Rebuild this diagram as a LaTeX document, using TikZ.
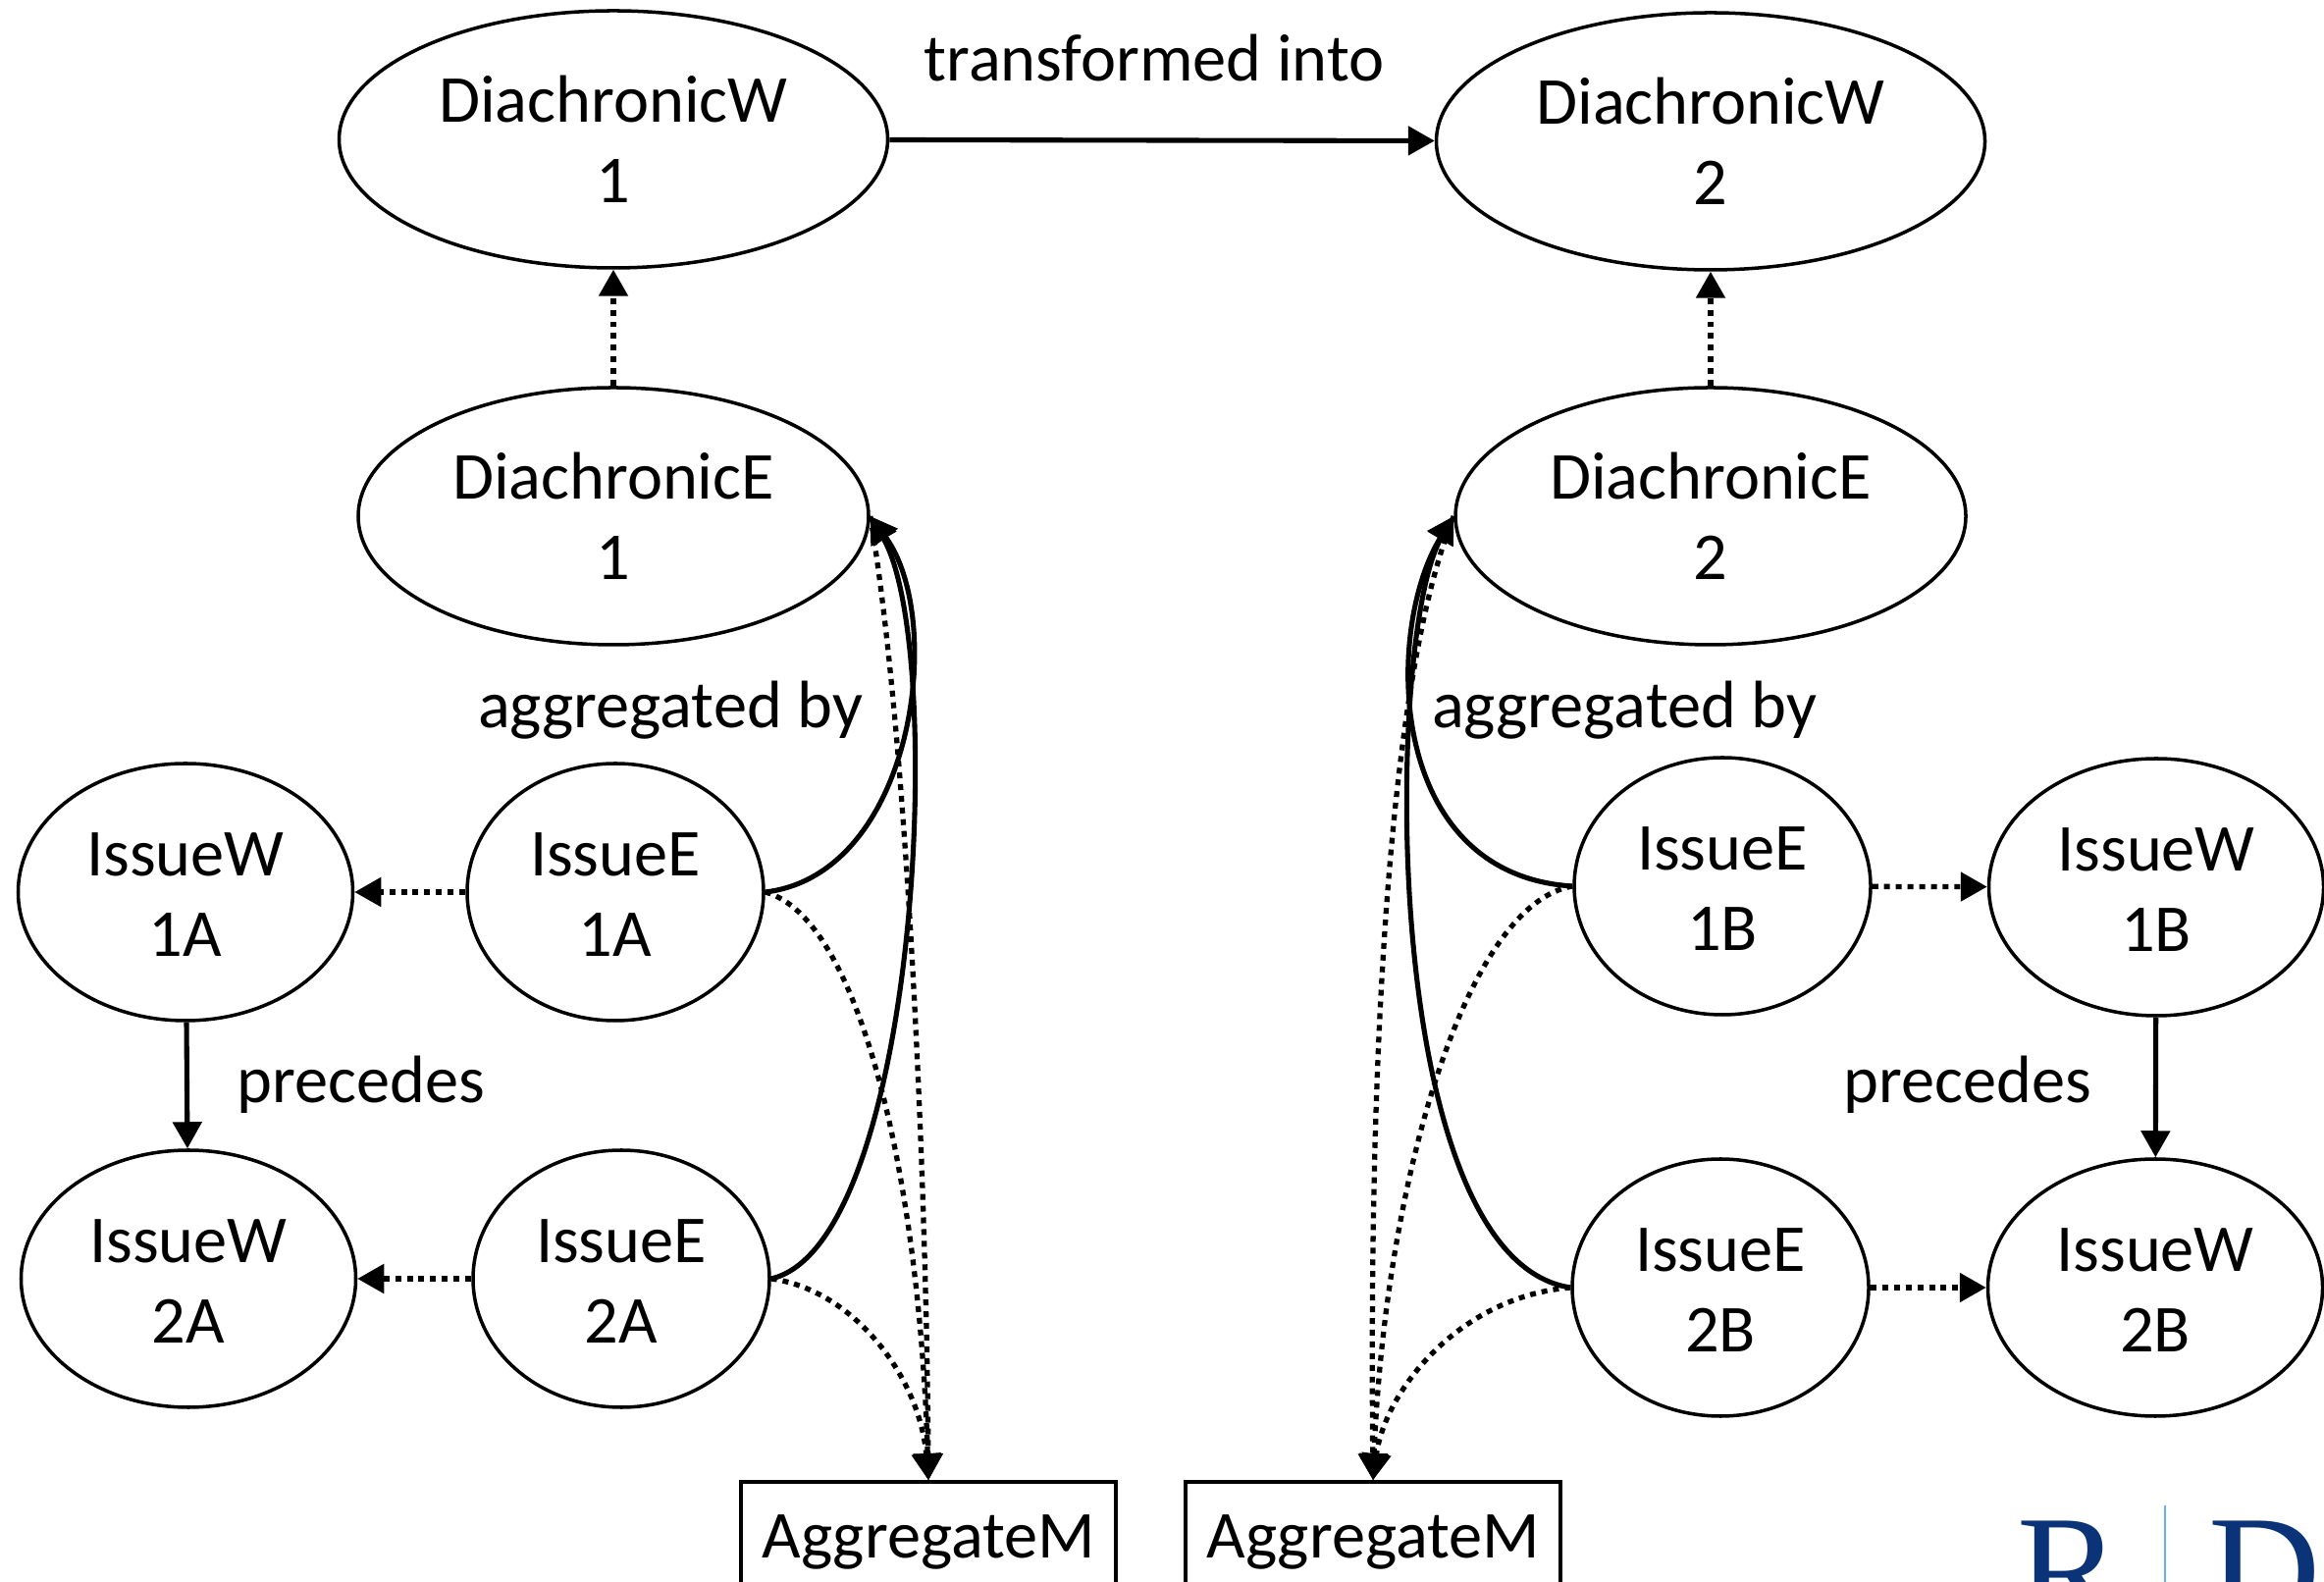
\documentclass[tikz,border=0pt]{standalone}
\usepackage{fontspec}
\usepackage{xcolor}
\setmainfont{Carlito}
\newfontfamily\logofont{Liberation Serif}
\usetikzlibrary{shapes.geometric,arrows.meta}
\definecolor{logonavy}{HTML}{0A3378}
\definecolor{logoblue}{HTML}{66AEFF}

\begin{document}
\begin{tikzpicture}[
    >={Triangle[length=0.27cm, width=0.29cm]},
    diachronicw/.style={ellipse, draw=black, line width=1pt, minimum width=5.59cm, minimum height=2.62cm,
                inner sep=0pt, align=center, font=\fontsize{19.45}{23.3}\selectfont},
    diachronice/.style={diachronicw, minimum width=5.2cm},
    issuew/.style={diachronicw, minimum width=3.41cm, minimum height=2.62cm, text height=37.4pt},
    issuee/.style={issuew, minimum width=3.02cm},
    aggregate/.style={rectangle, draw=black, line width=1pt, minimum width=3.82cm, minimum height=1.22cm,
                font=\fontsize{19.45}{23.3}\selectfont},
    relabel/.style={font=\fontsize{19.45}{23.3}\selectfont},
    solidlink/.style={->, line width=1.45pt},
    dottedlink/.style={->, line width=1.5pt, dash pattern=on 1.7pt off 1.7pt}
]
    \useasboundingbox (0,0) rectangle (23.68,16.11);

    % Diachronic nodes
    \node[diachronicw] (dw1) at (6.25,14.69) {DiachronicW\\1};
    \node[diachronicw] (dw2) at (17.43,14.67) {DiachronicW\\2};
    \node[diachronice] (de1) at (6.25,10.85) {DiachronicE\\1};
    \node[diachronice] (de2) at (17.43,10.85) {DiachronicE\\2};

    % Issue nodes, left
    \node[issuew] (iw1a) at (1.89,7.02) {IssueW\\1A};
    \node[issuee] (ie1a) at (6.27,7.02) {IssueE\\1A};
    \node[issuew] (iw2a) at (1.92,3.08) {IssueW\\2A};
    \node[issuee] (ie2a) at (6.33,3.08) {IssueE\\2A};

    % Issue nodes, right
    \node[issuee] (ie1b) at (17.55,7.08) {IssueE\\1B};
    \node[issuew] (iw1b) at (21.97,7.07) {IssueW\\1B};
    \node[issuee] (ie2b) at (17.53,2.99) {IssueE\\2B};
    \node[issuew] (iw2b) at (21.96,2.99) {IssueW\\2B};

    % Aggregates
    \node[aggregate] (am1) at (9.46,0.40) {AggregateM};
    \node[aggregate] (am2) at (13.99,0.40) {AggregateM};

    % Labels
    \node[relabel] (transformed) at (11.76,15.52) {transformed into};
    \node[relabel] (aggleft) at (6.83,8.87) {aggregated by};
    \node[relabel] (aggright) at (16.55,8.87) {aggregated by};
    \node[relabel] (precleft) at (3.68,5.06) {precedes};
    \node[relabel] (precright) at (20.05,5.06) {precedes};

    % Logo
    \node[anchor=base west, inner sep=0pt, text=logonavy, font=\logofont\fontsize{45}{45}\selectfont] (logor) at (20.55,-0.42) {R};
    \node[anchor=base west, inner sep=0pt, text=logonavy, font=\logofont\fontsize{45}{45}\selectfont] (logod) at (22.5,-0.42) {D};
    \node[anchor=north, fill=logoblue, inner sep=0pt, minimum width=0.02cm, minimum height=0.8cm] (logobar) at (22.06,0.78) {};

    % Straight connections
    \draw[solidlink] (dw1) -- (dw2);
    \draw[solidlink] (iw1a) -- (iw2a);
    \draw[solidlink] (iw1b) -- (iw2b);
    \foreach \a/\b in {de1/dw1,de2/dw2,ie1a/iw1a,ie2a/iw2a,ie1b/iw1b,ie2b/iw2b}
        \draw[dottedlink] (\a) -- (\b);

    % Curves, left
    \draw[solidlink] (ie1a.east) .. controls +(1.51,0.18) and +(0.78,-1.06) .. (de1.east);
    \draw[solidlink] (ie2a.east) .. controls +(1.51,0.35) and +(0.78,-1.33) .. (de1.east);
    \draw[dottedlink] (de1.east) .. controls +(0.38,-2.27) and +(-0.02,3.02) .. (am1.north);
    \draw[dottedlink] (ie1a.east) .. controls +(0.98,-0.27) and +(-0.09,3.02) .. (am1.north);
    \draw[dottedlink] (ie2a.east) .. controls +(0.83,-0.11) and +(-0.09,1.06) .. (am1.north);

    % Curves, right
    \draw[solidlink] (ie1b.west) .. controls +(-1.92,0.12) and +(-0.7,-1.13) .. (de2.west);
    \draw[solidlink] (ie2b.west) .. controls +(-1.96,0.29) and +(-0.7,-1.21) .. (de2.west);
    \draw[dottedlink] (de2.west) .. controls +(-0.79,-1.96) and +(-0.03,3.02) .. (am2.north);
    \draw[dottedlink] (ie1b.west) .. controls +(-1.09,-0.18) and +(0.12,3.02) .. (am2.north);
    \draw[dottedlink] (ie2b.west) .. controls +(-1.13,-0.09) and +(0.12,0.91) .. (am2.north);
\end{tikzpicture}
\end{document}
